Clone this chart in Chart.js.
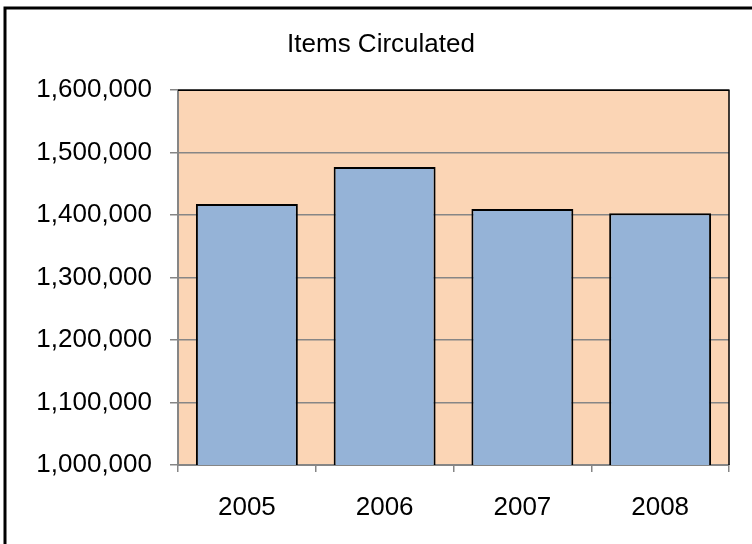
<!DOCTYPE html>
<html>
<head>
<meta charset="utf-8">
<script src="https://cdn.jsdelivr.net/npm/chart.js@4/dist/chart.umd.min.js"></script>
<style>
	html, body { margin: 0; padding: 0; background: #fff; }
	#wrap { width: 752px; height: 544px; }
</style>
</head>
<body>
<div id="wrap"><canvas id="chartjs-canvas" width="752" height="544"></canvas></div>
<script>
const years = ['2005', '2006', '2007', '2008'];
const itemsCirculated = [1418000, 1477000, 1410000, 1403000];
const yMin = 1000000;
const yMax = 1600000;
const yStep = 100000;

const FONT = 'Liberation Sans, Arial, sans-serif';

// peach plot area, black top/right edge, outer frame
const plotDecor = {
	id: 'plotDecor',
	beforeDraw: chart => {
		const {ctx, chartArea: a} = chart;
		ctx.save();
		ctx.fillStyle = '#fbd5b5';
		ctx.fillRect(a.left, a.top, a.right - a.left, a.bottom - a.top);
		ctx.restore();
	},
	afterDraw: chart => {
		const {ctx, chartArea: a} = chart;
		ctx.save();
		ctx.strokeStyle = '#000';
		ctx.lineWidth = 1.5;
		ctx.beginPath();
		ctx.moveTo(a.left, a.top);
		ctx.lineTo(a.right, a.top);
		ctx.lineTo(a.right, a.bottom);
		ctx.stroke();
		ctx.lineWidth = 3;
		ctx.strokeRect(5, 8, 900, 700);
		ctx.restore();
	}
};

const data = {
	labels: years,
	datasets: [{
		label: 'Items Circulated',
		data: itemsCirculated,
		backgroundColor: '#95b3d7',
		borderColor: '#000',
		borderWidth: 2,
		barPercentage: 0.74,
		categoryPercentage: 1
	}]
};

const config = {
	type: 'bar',
	data,
	plugins: [plotDecor],
	options: {
		responsive: false,
		animation: false,
		layout: {
			padding: {left: 33, right: 23, top: 0, bottom: 0}
		},
		plugins: {
			legend: {display: false},
			tooltip: {enabled: false},
			title: {
				display: true,
				text: 'Items Circulated',
				color: '#000',
				font: {family: FONT, size: 26, weight: 'normal'},
				padding: {top: 29, bottom: 30}
			}
		},
		scales: {
			x: {
				afterFit: scale => { scale.height = 79; },
				grid: {
					drawOnChartArea: false,
					color: '#868686',
					tickLength: 7,
					lineWidth: 1.5
				},
				border: {color: '#868686', width: 2},
				ticks: {
					color: '#000',
					padding: 20,
					font: {family: FONT, size: 26}
				}
			},
			y: {
				min: yMin,
				max: yMax,
				afterFit: scale => { scale.width = 145; },
				grid: {
					color: '#868686',
					lineWidth: 1.5,
					tickLength: 8
				},
				border: {color: '#868686', width: 2},
				ticks: {
					stepSize: yStep,
					color: '#000',
					padding: 18,
					font: {family: FONT, size: 26},
					callback: v => v.toLocaleString('en-US')
				}
			}
		}
	}
};

new Chart(document.getElementById('chartjs-canvas'), config);
</script>
</body>
</html>
